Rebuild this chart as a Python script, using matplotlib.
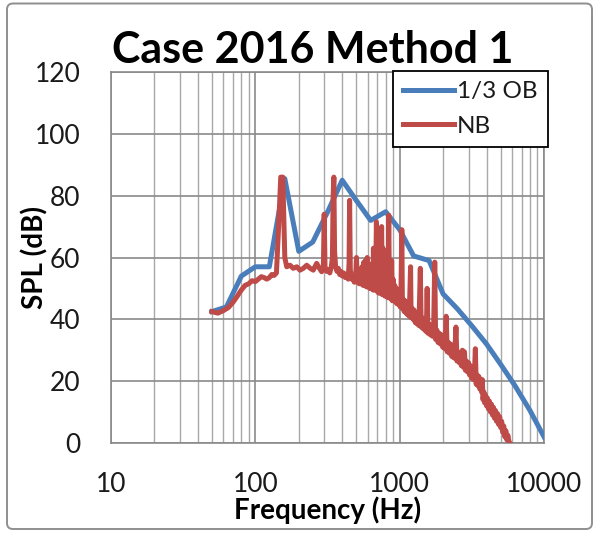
import matplotlib
matplotlib.use("Agg")
import matplotlib.pyplot as plt
from matplotlib.patches import FancyBboxPatch
from matplotlib.ticker import LogLocator, NullFormatter, FixedLocator, FixedFormatter

# 1/3-octave band spectrum
ob_freq = [50, 63, 80, 100, 125, 160, 200, 250, 315, 400, 500, 630,
           800, 1000, 1250, 1600, 2000, 2500, 3150, 4000, 5000, 6300, 8000, 10000]
ob_spl = [42.5, 44.0, 54.0, 57.0, 57.0, 85.5, 62.0, 65.0, 74.5, 85.0, 78.5, 72.0,
          74.8, 69.0, 60.5, 59.0, 48.2, 43.5, 38.0, 32.0, 25.5, 18.5, 10.5, 2.0]

# Narrowband spectrum
nb_freq = [
    50, 55, 60, 65, 70, 75, 80, 85, 90, 95, 100, 105, 110, 115, 120, 125, 130, 135, 140,
    145, 150, 155, 160, 165, 174, 183, 194, 204, 215, 227, 240, 252, 266, 278, 288, 296,
    300, 304, 312, 320, 328, 336, 342, 346, 350, 354, 360, 368, 376, 384, 392, 400, 410,
    420, 430, 440, 446, 450, 455, 465, 475, 485, 495, 502, 508, 516, 524, 532, 540, 548,
    556, 564, 572, 580, 588, 596, 604, 612, 620, 628, 636, 644, 652, 658, 664, 672, 680,
    690, 698, 706, 714, 722, 730, 740, 750, 758, 766, 774, 782, 790, 800, 810, 820, 830,
    840, 850, 860, 870, 880, 890, 900, 912, 924, 936, 948, 960, 972, 984, 996, 1008,
    1020, 1035, 1045, 1060, 1075, 1090, 1105, 1120, 1135, 1150, 1165, 1190, 1200, 1220,
    1240, 1260, 1280, 1300, 1320, 1340, 1360, 1390, 1410, 1430, 1450, 1470, 1490, 1510,
    1530, 1550, 1570, 1600, 1630, 1660, 1690, 1720, 1750, 1775, 1810, 1845, 1880, 1915,
    1950, 1985, 2020, 2055, 2100, 2135, 2175, 2215, 2255, 2295, 2335, 2375, 2415, 2455,
    2495, 2540, 2585, 2630, 2675, 2720, 2765, 2810, 2855, 2900, 2950, 3000, 3050, 3100,
    3150, 3200, 3250, 3300, 3345, 3390, 3440, 3490, 3540, 3590, 3640, 3690, 3740, 3780,
    3830, 3880, 3940, 4000, 4060, 4120, 4190, 4260, 4330, 4400, 4470, 4540, 4610, 4690,
    4770, 4850, 4930, 5010, 5090, 5170, 5260, 5350, 5440, 5530, 5620, 5710, 5800,
]
nb_spl = [
    42.5, 42.0, 42.8, 43.8, 45.5, 47.5, 49.5, 51.0, 51.5, 52.5, 52.2, 53.0, 53.8, 53.5, 53.0, 53.5, 54.5, 54.2, 55.0,
    70.0, 86.0, 86.0, 60.0, 57.0, 57.5, 56.5, 57.0, 55.9, 56.5, 57.5, 56.5, 55.9, 58.1, 56.5, 55.4, 56.5,
    74.0, 57.0, 55.5, 56.0, 55.0, 57.0, 60.0, 80.0, 86.0, 62.0, 57.0, 55.5, 56.5, 54.5, 55.5, 54.0, 55.0,
    53.5, 54.5, 53.0, 58.0, 78.5, 56.0, 53.0, 54.0, 52.0, 53.5, 60.0, 52.0, 54.5, 51.5, 56.0, 51.5, 57.0,
    51.0, 58.5, 51.0, 59.0, 50.5, 60.0, 50.5, 57.5, 50.0, 55.0, 50.0, 58.0, 49.5, 63.0, 49.5, 60.0, 49.5,
    71.5, 49.0, 62.0, 48.5, 66.0, 48.5, 60.0, 70.0, 48.0, 63.0, 48.0, 60.0, 47.5, 62.0, 47.5, 58.0, 47.0,
    73.7, 47.0, 56.0, 46.5, 59.0, 46.0, 53.0, 46.0, 51.0, 45.5, 50.0, 45.0, 48.0, 45.0, 47.5, 44.0,
    47.5, 69.0, 43.5, 46.5, 42.5, 46.0, 42.0, 45.5, 41.5, 45.0, 41.0, 57.0, 40.5, 43.5,
    40.0, 43.0, 39.0, 42.0, 38.5, 41.5, 38.0, 56.5, 37.5, 40.5, 37.0, 40.0, 36.5, 39.5,
    36.0, 50.0, 35.5, 38.5, 35.0, 38.0, 34.5, 37.5, 58.5, 33.5, 36.5, 32.5, 35.5, 32.0,
    35.0, 31.0, 34.0, 30.5, 41.0, 29.5, 32.5, 29.0, 32.0, 28.0, 31.0, 27.5, 30.5, 37.5,
    26.5, 29.5, 26.0, 29.0, 25.0, 30.0, 24.5, 29.5, 23.5, 26.5, 23.0, 26.0, 22.0, 25.0,
    21.0, 24.0, 20.5, 23.0, 30.5, 19.0, 22.0, 18.5, 21.5, 17.5, 20.5, 16.5, 20.5, 14.0,
    16.5, 13.0, 15.5, 12.0, 14.5, 11.0, 13.5, 10.0, 12.5, 9.0, 11.5, 8.0, 10.5, 7.0,
    9.5, 6.0, 8.5, 5.0, 7.0, 3.5, 5.5, 2.0, 4.0, 1.0, 2.5, 0.5, 0.0,
]

x_ticks = [10, 100, 1000, 10000]
x_tick_labels = ["10", "100", "1000", "10000"]
y_ticks = [0, 20, 40, 60, 80, 100, 120]

BLUE = "#4A7EBB"
RED = "#BE4B48"
FONT = "Lato"

W, H = 597, 533
fig = plt.figure(figsize=(W / 100, H / 100), dpi=100)
fig.patch.set_facecolor("white")

# outer chart border
fig.patches.append(FancyBboxPatch(
    (7 / 100, (H - 529) / 100), 585 / 100, 525.5 / 100,
    boxstyle="round,pad=0,rounding_size=0.06",
    transform=fig.dpi_scale_trans, facecolor="white",
    edgecolor="#8f8f8f", linewidth=1.4, zorder=-5))

ax = fig.add_axes([111 / W, 1 - 443 / H, 433 / W, 371 / H])
ax.set_facecolor("white")

ax.plot(ob_freq, ob_spl, color=BLUE, lw=3.6, label="1/3 OB",
        solid_joinstyle="round", zorder=3)
ax.plot(nb_freq, nb_spl, color=RED, lw=3.6, label="NB",
        solid_joinstyle="round", zorder=4)

ax.set_xscale("log")
ax.set_xlim(10, 10000)
ax.set_ylim(0, 120)

ax.xaxis.set_major_locator(FixedLocator(x_ticks))
ax.xaxis.set_major_formatter(FixedFormatter(x_tick_labels))
ax.xaxis.set_minor_locator(LogLocator(base=10, subs=range(2, 10)))
ax.xaxis.set_minor_formatter(NullFormatter())
ax.set_yticks(y_ticks)

ax.grid(True, which="major", axis="both", color="#8a8a8a", lw=1.2)
ax.grid(True, which="minor", axis="x", color="#a8a8a8", lw=1.0)
ax.set_axisbelow(True)
for s in ax.spines.values():
    s.set_color("#8a8a8a")
    s.set_linewidth(1.2)

ax.tick_params(axis="both", which="both", length=0)
ax.tick_params(axis="y", pad=22)
ax.tick_params(axis="x", pad=21)
for lab in ax.get_xticklabels() + ax.get_yticklabels():
    lab.set_fontfamily(FONT)
    lab.set_fontsize(19)
    lab.set_color("#1a1a1a")

ax.set_xlabel("Frequency (Hz)", fontfamily=FONT, fontweight="bold",
              fontsize=20, color="black")
ax.xaxis.set_label_coords(0.5, -0.145)
ax.set_ylabel("SPL (dB)", fontfamily=FONT, fontweight="bold",
              fontsize=20, color="black", va="center")
ax.yaxis.set_label_coords(-0.176, 0.5)

fig.text(313 / W, 1 - 63 / H, "Case 2016 Method 1", fontfamily=FONT,
         fontweight="bold", fontsize=31, ha="center", va="baseline")

leg = ax.legend(loc="upper left", bbox_to_anchor=(393 / W, 1 - 71 / H),
                bbox_transform=fig.transFigure, borderaxespad=0,
                prop={"family": FONT, "size": 17.5}, frameon=True,
                fancybox=False, handlelength=2.1, handletextpad=0.1,
                borderpad=0.42, labelspacing=0.55)
leg.get_frame().set_edgecolor("black")
leg.get_frame().set_linewidth(1.3)
leg.get_frame().set_alpha(1)
for t in leg.get_texts():
    t.set_color("#1a1a1a")

fig.savefig("out.png", dpi=100)
